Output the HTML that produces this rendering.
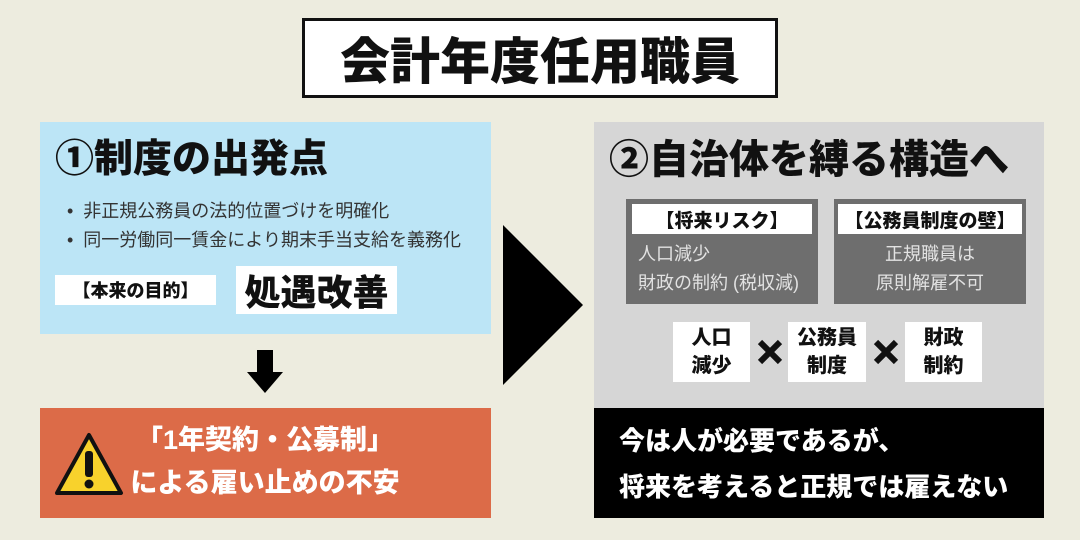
<!DOCTYPE html>
<html><head><meta charset="utf-8"><style>
*{margin:0;padding:0;box-sizing:border-box}
body{width:1080px;height:540px;background:#edecdf;position:relative;overflow:hidden;font-family:"Liberation Sans","Noto Sans CJK JP",sans-serif}
.a{position:absolute}
.c{display:flex;align-items:center;justify-content:center;text-align:center}
</style></head><body>
<div class="a c" style="left:302px;top:18px;width:476px;height:80px;background:#fff;border:3px solid #111;font-size:50px;font-weight:900;color:#111;letter-spacing:0px">会計年度任用職員</div>

<div class="a" style="left:40px;top:122px;width:451px;height:212px;background:#bce5f6"></div>
<div class="a" style="left:55px;top:137px;font-size:39px;font-weight:900;color:#111;line-height:46px;white-space:nowrap">①制度の出発点</div>
<div class="a" style="left:67px;top:197px;font-size:18px;color:#333;line-height:29px;white-space:nowrap">•&nbsp;&nbsp;非正規公務員の法的位置づけを明確化<br>•&nbsp;&nbsp;同一労働同一賃金により期末手当支給を義務化</div>
<div class="a c" style="left:55px;top:275px;width:161px;height:30px;background:#fff;font-size:18px;font-weight:900;color:#111">【本来の目的】</div>
<div class="a c" style="left:236px;top:266px;width:161px;height:48px;background:#fff;font-size:36px;font-weight:900;color:#111">処遇改善</div>

<div class="a" style="left:257px;top:350px;width:16px;height:23px;background:#000"></div>
<div class="a" style="left:247px;top:372px;width:0;height:0;border-left:18px solid transparent;border-right:18px solid transparent;border-top:21px solid #000"></div>

<div class="a" style="left:40px;top:408px;width:451px;height:110px;background:#dc6b48"></div>
<svg class="a" style="left:54px;top:431px" width="70" height="66" viewBox="0 0 70 66"><path d="M35 4 L67 62 L3 62 Z" fill="#f8d22c" stroke="#111" stroke-width="4" stroke-linejoin="round"/><rect x="31" y="20" width="8" height="26" rx="3" fill="#111"/><circle cx="35" cy="53" r="4.5" fill="#111"/></svg>
<div class="a c" style="left:110px;top:418px;width:310px;height:88px;color:#fff;font-size:27px;font-weight:900;line-height:43px;white-space:nowrap">「1年契約・公募制」<br>による雇い止めの不安</div>

<div class="a" style="left:503px;top:225px;width:0;height:0;border-top:80px solid transparent;border-bottom:80px solid transparent;border-left:80px solid #000"></div>

<div class="a" style="left:594px;top:122px;width:450px;height:286px;background:#d6d6d6"></div>
<div class="a" style="left:609px;top:137px;font-size:40px;font-weight:900;color:#111;line-height:46px;white-space:nowrap">②自治体を縛る構造へ</div>

<div class="a" style="left:626px;top:199px;width:192px;height:105px;background:#6e6e6e"></div>
<div class="a c" style="left:632px;top:204px;width:180px;height:30px;background:#fff;font-size:19px;font-weight:900;color:#111;white-space:nowrap">【将来リスク】</div>
<div class="a" style="left:638px;top:240px;font-size:18px;color:#e2e2e2;line-height:29px;white-space:nowrap">人口減少<br>財政の制約 (税収減)</div>

<div class="a" style="left:834px;top:199px;width:192px;height:105px;background:#6e6e6e"></div>
<div class="a c" style="left:838px;top:204px;width:184px;height:30px;background:#fff;font-size:19px;font-weight:900;color:#111;white-space:nowrap">【公務員制度の壁】</div>
<div class="a c" style="left:834px;top:240px;width:192px;font-size:18px;color:#e2e2e2;line-height:29px">正規職員は<br>原則解雇不可</div>

<div class="a c" style="left:673px;top:322px;width:77px;height:60px;background:#fff;font-size:20px;font-weight:900;line-height:28px;color:#111">人口<br>減少</div>
<svg class="a" style="left:757px;top:339px" width="26" height="26" viewBox="0 0 26 26"><path d="M3 3L23 23M23 3L3 23" stroke="#111" stroke-width="6"/></svg>
<div class="a c" style="left:788px;top:322px;width:78px;height:60px;background:#fff;font-size:20px;font-weight:900;line-height:28px;color:#111">公務員<br>制度</div>
<svg class="a" style="left:873px;top:339px" width="26" height="26" viewBox="0 0 26 26"><path d="M3 3L23 23M23 3L3 23" stroke="#111" stroke-width="6"/></svg>
<div class="a c" style="left:905px;top:322px;width:77px;height:60px;background:#fff;font-size:20px;font-weight:900;line-height:28px;color:#111">財政<br>制約</div>

<div class="a" style="left:594px;top:408px;width:450px;height:110px;background:#000"></div>
<div class="a" style="left:619px;top:418px;color:#fff;font-size:26px;font-weight:900;line-height:46px;white-space:nowrap">今は人が必要であるが、<br>将来を考えると正規では雇えない</div>
</body></html>
